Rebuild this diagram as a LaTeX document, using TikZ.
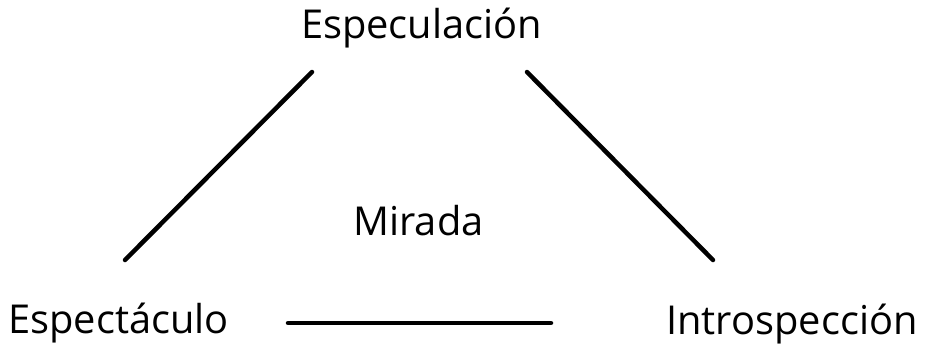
\documentclass[tikz,border=0pt]{standalone}
\usepackage{fontspec}
\setmainfont{Open Sans}
\begin{document}
\begin{tikzpicture}[x=1pt,y=-1pt,
  thick,word node/.style={inner sep=0pt,anchor=base,font=\fontsize{39.8}{47}\selectfont},
  link/.style={line width=4.5pt,line cap=round}]
  \useasboundingbox (0,0) rectangle (930,346);

  \node[word node] (esp) at (421.5,38) {Especulación};
  \node[word node] (spc) at (118.5,333) {Espectáculo};
  \node[word node] (int) at (792,334) {Introspección};
  \node[word node] (mir) at (418.5,235) {Mirada};

  \coordinate (l1) at (125,260);
  \coordinate (l2) at (312,72);
  \coordinate (r1) at (527,72);
  \coordinate (r2) at (713,260);
  \coordinate (b1) at (288,323);
  \coordinate (b2) at (551,323);

  \path[link]
   (l1) edge (l2)
   (r1) edge (r2)
   (b1) edge (b2);
\end{tikzpicture}
\end{document}
